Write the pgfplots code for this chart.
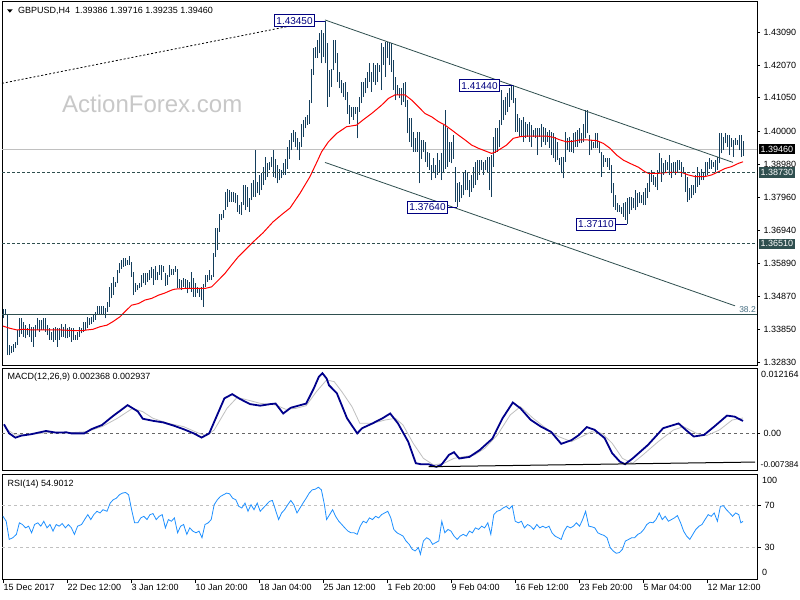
\documentclass[border=0pt]{standalone}
\usepackage{pgfplots}
\pgfplotsset{compat=1.18}
\usepackage{pgfplotstable}
\usepackage{fontspec}
\setmainfont{Liberation Sans}

\definecolor{barcol}{RGB}{20,62,92}
\definecolor{slate}{RGB}{47,79,79}
\definecolor{lgray}{RGB}{192,192,192}
\definecolor{navyb}{RGB}{0,0,128}
\definecolor{macdblue}{RGB}{0,0,139}
\definecolor{rsiblue}{RGB}{30,144,255}
\definecolor{wmgray}{RGB}{200,200,200}
\definecolor{lvl}{RGB}{70,110,130}
\newcommand{\sm}{\fontsize{9bp}{10bp}\selectfont}

\pgfplotstableread{
i lo hi
0 1.3419 1.3448
1 1.3429 1.3448
2 1.3305 1.3429
3 1.3305 1.3336
4 1.3310 1.3333
5 1.3315 1.3338
6 1.3326 1.3346
7 1.3336 1.3383
8 1.3362 1.3419
9 1.3370 1.3421
10 1.3362 1.3409
11 1.3357 1.3398
12 1.3367 1.3388
13 1.3362 1.3403
14 1.3346 1.3393
15 1.3331 1.3393
16 1.3362 1.3398
17 1.3383 1.3419
18 1.3378 1.3414
19 1.3383 1.3414
20 1.3383 1.3419
21 1.3378 1.3419
22 1.3367 1.3398
23 1.3352 1.3388
24 1.3352 1.3377
25 1.3346 1.3388
26 1.3352 1.3393
27 1.3331 1.3388
28 1.3352 1.3388
29 1.3362 1.3403
30 1.3362 1.3393
31 1.3357 1.3403
32 1.3357 1.3388
33 1.3362 1.3393
34 1.3346 1.3388
35 1.3352 1.3388
36 1.3352 1.3367
37 1.3352 1.3377
38 1.3362 1.3393
39 1.3372 1.3388
40 1.3378 1.3409
41 1.3383 1.3409
42 1.3388 1.3424
43 1.3398 1.3419
44 1.3403 1.3424
45 1.3409 1.3429
46 1.3414 1.3440
47 1.3429 1.3457
48 1.3429 1.3457
49 1.3434 1.3457
50 1.3434 1.3457
51 1.3419 1.3450
52 1.3440 1.3471
53 1.3455 1.3517
54 1.3481 1.3530
55 1.3492 1.3549
56 1.3517 1.3533
57 1.3528 1.3569
58 1.3559 1.3590
59 1.3574 1.3600
60 1.3580 1.3606
61 1.3582 1.3606
62 1.3585 1.3600
63 1.3585 1.3614
64 1.3548 1.3595
65 1.3491 1.3564
66 1.3502 1.3528
67 1.3507 1.3523
68 1.3512 1.3528
69 1.3517 1.3554
70 1.3528 1.3561
71 1.3523 1.3559
72 1.3533 1.3561
73 1.3538 1.3569
74 1.3543 1.3580
75 1.3523 1.3574
76 1.3538 1.3582
77 1.3538 1.3564
78 1.3554 1.3585
79 1.3538 1.3585
80 1.3564 1.3582
81 1.3521 1.3559
82 1.3523 1.3554
83 1.3548 1.3585
84 1.3554 1.3571
85 1.3554 1.3574
86 1.3564 1.3582
87 1.3512 1.3574
88 1.3512 1.3540
89 1.3507 1.3538
90 1.3517 1.3543
91 1.3512 1.3540
92 1.3497 1.3538
93 1.3512 1.3533
94 1.3502 1.3564
95 1.3486 1.3543
96 1.3486 1.3528
97 1.3497 1.3517
98 1.3486 1.3512
99 1.3476 1.3517
100 1.3455 1.3526
101 1.3517 1.3554
102 1.3533 1.3554
103 1.3538 1.3569
104 1.3538 1.3554
105 1.3548 1.3621
106 1.3611 1.3699
107 1.3631 1.3699
108 1.3689 1.3745
109 1.3725 1.3745
110 1.3730 1.3756
111 1.3756 1.3813
112 1.3766 1.3820
113 1.3782 1.3818
114 1.3782 1.3813
115 1.3782 1.3813
116 1.3777 1.3808
117 1.3751 1.3803
118 1.3745 1.3771
119 1.3740 1.3782
120 1.3771 1.3834
121 1.3756 1.3834
122 1.3766 1.3829
123 1.3751 1.3792
124 1.3787 1.3839
125 1.3797 1.3849
126 1.3797 1.3942
127 1.3808 1.3844
128 1.3802 1.3865
129 1.3818 1.3870
130 1.3834 1.3891
131 1.3849 1.3922
132 1.3860 1.3901
133 1.3880 1.3906
134 1.3891 1.3922
135 1.3860 1.3944
136 1.3854 1.3916
137 1.3839 1.3896
138 1.3849 1.3885
139 1.3854 1.3880
140 1.3865 1.3901
141 1.3865 1.3916
142 1.3885 1.3953
143 1.3916 1.3974
144 1.3942 1.3994
145 1.3968 1.4005
146 1.3953 1.3999
147 1.3942 1.3979
148 1.3911 1.3968
149 1.3953 1.4025
150 1.3984 1.4036
151 1.4010 1.4046
152 1.4020 1.4051
153 1.4025 1.4098
154 1.4088 1.4196
155 1.4176 1.4259
156 1.4228 1.4264
157 1.4228 1.4285
158 1.4243 1.4305
159 1.4212 1.4316
160 1.4233 1.4305
161 1.4212 1.4345
162 1.4077 1.4274
163 1.4108 1.4191
164 1.4139 1.4196
165 1.4191 1.4285
166 1.4212 1.4285
167 1.4155 1.4243
168 1.4134 1.4186
169 1.4119 1.4160
170 1.4108 1.4150
171 1.4098 1.4155
172 1.4056 1.4124
173 1.4025 1.4082
174 1.4046 1.4077
175 1.4036 1.4077
176 1.4056 1.4077
177 1.3979 1.4077
178 1.4062 1.4108
179 1.4088 1.4155
180 1.4108 1.4155
181 1.4119 1.4165
182 1.4134 1.4186
183 1.4155 1.4212
184 1.4124 1.4186
185 1.4155 1.4212
186 1.4145 1.4207
187 1.4155 1.4212
188 1.4186 1.4207
189 1.4129 1.4275
190 1.4207 1.4263
191 1.4170 1.4278
192 1.4229 1.4278
193 1.4207 1.4275
194 1.4185 1.4275
195 1.4129 1.4222
196 1.4098 1.4170
197 1.4114 1.4145
198 1.4103 1.4134
199 1.4082 1.4134
200 1.4093 1.4150
201 1.4077 1.4155
202 1.3994 1.4098
203 1.3968 1.4041
204 1.3953 1.4041
205 1.3937 1.3999
206 1.3937 1.3979
207 1.3937 1.3999
208 1.3839 1.3999
209 1.3916 1.3974
210 1.3937 1.3974
211 1.3906 1.3968
212 1.3891 1.3937
213 1.3880 1.3932
214 1.3849 1.3896
215 1.3870 1.3917
216 1.3854 1.3896
217 1.3865 1.3932
218 1.3875 1.3911
219 1.3849 1.3932
220 1.3875 1.4020
221 1.3885 1.4067
222 1.3891 1.4010
223 1.3906 1.3968
224 1.3901 1.3968
225 1.3916 1.3989
226 1.3782 1.3891
227 1.3764 1.3839
228 1.3782 1.3844
229 1.3792 1.3834
230 1.3802 1.3875
231 1.3818 1.3880
232 1.3818 1.3875
233 1.3797 1.3849
234 1.3813 1.3865
235 1.3823 1.3891
236 1.3834 1.3906
237 1.3849 1.3911
238 1.3865 1.3911
239 1.3880 1.3911
240 1.3865 1.3906
241 1.3880 1.3911
242 1.3875 1.3922
243 1.3818 1.3922
244 1.3797 1.3927
245 1.3891 1.3984
246 1.3932 1.4010
247 1.3937 1.4010
248 1.3953 1.4036
249 1.4020 1.4129
250 1.4036 1.4098
251 1.4051 1.4108
252 1.4062 1.4119
253 1.4077 1.4134
254 1.4098 1.4145
255 1.4088 1.4144
256 1.3999 1.4103
257 1.3999 1.4056
258 1.3984 1.4041
259 1.3984 1.4036
260 1.3968 1.4046
261 1.3979 1.4031
262 1.3984 1.4025
263 1.3968 1.4031
264 1.3953 1.4020
265 1.3984 1.4005
266 1.3979 1.4010
267 1.3927 1.4010
268 1.3984 1.4010
269 1.3953 1.4025
270 1.3968 1.4015
271 1.3958 1.4010
272 1.3968 1.3999
273 1.3948 1.4005
274 1.3927 1.3999
275 1.3917 1.3994
276 1.3906 1.3984
277 1.3911 1.3968
278 1.3896 1.3917
279 1.3870 1.3922
280 1.3854 1.3922
281 1.3906 1.3999
282 1.3942 1.3979
283 1.3937 1.3984
284 1.3937 1.3974
285 1.3932 1.3994
286 1.3953 1.3999
287 1.3953 1.4005
288 1.3963 1.4010
289 1.3963 1.3994
290 1.3968 1.4025
291 1.3979 1.4067
292 1.3994 1.4067
293 1.3927 1.3989
294 1.3942 1.3974
295 1.3948 1.3968
296 1.3948 1.3994
297 1.3948 1.3994
298 1.3932 1.3968
299 1.3859 1.3937
300 1.3891 1.3927
301 1.3906 1.3917
302 1.3891 1.3917
303 1.3880 1.3917
304 1.3808 1.3896
305 1.3766 1.3839
306 1.3756 1.3802
307 1.3751 1.3777
308 1.3751 1.3771
309 1.3745 1.3766
310 1.3735 1.3777
311 1.3725 1.3782
312 1.3711 1.3792
313 1.3745 1.3797
314 1.3756 1.3797
315 1.3761 1.3792
316 1.3756 1.3818
317 1.3766 1.3808
318 1.3777 1.3813
319 1.3777 1.3802
320 1.3771 1.3813
321 1.3771 1.3823
322 1.3792 1.3839
323 1.3813 1.3875
324 1.3844 1.3880
325 1.3834 1.3865
326 1.3828 1.3860
327 1.3818 1.3880
328 1.3870 1.3932
329 1.3844 1.3917
330 1.3865 1.3901
331 1.3875 1.3911
332 1.3880 1.3906
333 1.3865 1.3927
334 1.3854 1.3901
335 1.3875 1.3906
336 1.3865 1.3906
337 1.3875 1.3911
338 1.3880 1.3911
339 1.3860 1.3906
340 1.3870 1.3891
341 1.3813 1.3875
342 1.3782 1.3860
343 1.3787 1.3823
344 1.3792 1.3834
345 1.3802 1.3834
346 1.3808 1.3865
347 1.3828 1.3891
348 1.3834 1.3870
349 1.3849 1.3885
350 1.3849 1.3870
351 1.3860 1.3906
352 1.3865 1.3906
353 1.3885 1.3917
354 1.3885 1.3911
355 1.3891 1.3906
356 1.3875 1.3911
357 1.3880 1.3922
358 1.3901 1.3994
359 1.3932 1.3994
360 1.3942 1.3984
361 1.3963 1.3994
362 1.3953 1.3989
363 1.3927 1.3989
364 1.3953 1.3979
365 1.3922 1.3974
366 1.3958 1.3979
367 1.3958 1.3974
368 1.3942 1.3989
369 1.3922 1.3989
370 1.39235 1.39716
}\bars

\pgfplotstableread{
i p
0 1.3395
3.5 1.3388
7 1.3383
10 1.3385
15 1.3383
22 1.3383
29 1.3383
35 1.3381
40 1.3381
42 1.3383
45 1.3385
48.5 1.3393
52 1.3398
55 1.3409
58.5 1.3424
61 1.3440
64.3 1.3460
67.7 1.3465
71 1.3476
74.3 1.3481
77.7 1.3491
81 1.3498
84.3 1.3507
86 1.3510
91 1.3512
96 1.3512
101 1.3512
104.3 1.3517
107.7 1.3538
111 1.3559
114.3 1.3585
117.7 1.3611
121 1.3631
124.3 1.3652
126 1.3662
130 1.3685
135 1.3719
140 1.3745
143.5 1.3762
148.5 1.3808
153.5 1.3860
157 1.3906
159.3 1.3937
162.7 1.3968
166.8 1.3994
171.8 1.4015
176.8 1.4020
180 1.4036
184.3 1.4056
189.3 1.4082
192.7 1.4103
196 1.4114
201 1.4114
204.3 1.4098
207.7 1.4077
211 1.4056
214.3 1.4046
217.7 1.4031
221 1.4020
224.3 1.4005
227.7 1.3989
231 1.3974
234.3 1.3958
237.7 1.3948
241 1.3940
244.3 1.3932
246 1.3936
248.5 1.3945
251.8 1.3958
255.2 1.3979
258.5 1.3984
261.8 1.3986
265.2 1.3986
271.8 1.3986
275.2 1.3982
278.5 1.3974
281.8 1.3968
285.2 1.3970
288.5 1.3974
291.8 1.3974
296.8 1.3972
300.2 1.3963
303.5 1.3948
306.8 1.3927
310.2 1.3911
313.5 1.3901
317.7 1.3889
321 1.3875
322.7 1.3870
327.7 1.3870
332.7 1.3873
339.3 1.3873
342.7 1.3865
346 1.3860
351 1.3860
354.3 1.3865
357.7 1.3875
361 1.3885
364.3 1.3891
367.7 1.3901
370 1.3906
}\ma

\pgfplotstableread{
i v
0.5 0.00173
3.1 0
6.2 -0.00082
9.2 -0.00043
13.8 -0.00018
21.5 0.00046
26.6 0.00014
31.7 0.0002
34.2 0
40.6 0
44.4 0.00084
49.5 0.0016
54.6 0.0032
62.3 0.0054
67.4 0.0042
69.9 0.0028
75 0.0024
80.1 0.0021
85.2 0.0015
90.3 0.0008
95.4 0
99.3 -0.0008
103.1 0
105.6 0.0022
110.7 0.0067
114.6 0.0075
118.4 0.0066
123.5 0.0056
128.6 0.0053
133.7 0.0056
136.3 0.0057
140.1 0.0038
143.9 0.0049
147.7 0.0053
151.6 0.0057
155.4 0.0086
157.9 0.0108
159.7 0.0115
161.8 0.0105
163 0.0092
166.9 0.0077
172 0.0029
177.1 0
179.6 0.001
184.7 0.0019
189.8 0.0029
193.6 0.0038
197.5 0.0019
202.6 -0.0016
206.4 -0.0057
209 -0.0059
212.8 -0.0059
216.6 -0.0064
219.2 -0.006
223 -0.0041
225.5 -0.0036
228.1 -0.0048
233.2 -0.0045
238.3 -0.0032
244.7 -0.001
249.8 0.0029
254.9 0.0059
258.7 0.0048
263.8 0.0026
268.9 0.0013
274 0.0003
279.1 -0.002
284.2 -0.0013
288 -0.0003
291.9 0.0012
295.7 0.0007
300.8 -0.0009
304.6 -0.0038
308.4 -0.0054
311 -0.0059
314.8 -0.0048
322.5 -0.0022
330.1 0.001
337.8 0.0019
341.6 0.0006
345.4 -0.0006
350.5 -0.0003
355.6 0.0013
362 0.0034
365.8 0.0032
370 0.00237
}\macd

\pgfplotstableread{
i v
1.1 0.00097
6.2 -0.00031
13.8 -0.00018
24 0.0002
34.2 0.00014
41.9 0.00033
49.5 0.00129
57.2 0.00288
64.8 0.00479
69.9 0.00415
75 0.00288
82.7 0.00192
90.3 0.00129
98 0.00001
101.8 -0.00043
105.6 0.00065
112 0.00479
117.1 0.00689
122.2 0.00639
128.6 0.00575
136.3 0.00543
141.4 0.0046
146.5 0.00479
151.6 0.0053
156.7 0.00798
161.8 0.01021
165.6 0.00989
169.4 0.00798
174.5 0.00511
178.4 0.00192
184.7 0.00192
191.1 0.00256
196.2 0.00288
200 0.00161
205.1 -0.0019
210.2 -0.00477
215.3 -0.00604
220.4 -0.00572
225.5 -0.00477
230.6 -0.00445
235.7 -0.00413
240.9 -0.00285
247.2 -0.00031
253.6 0.00352
258.7 0.00511
265.1 0.00288
271.5 0.00097
277.8 -0.00062
284.2 -0.00158
289.3 -0.00062
294.4 0.00033
299.5 0.00001
304.6 -0.0019
309.7 -0.00477
314.8 -0.00572
319.9 -0.00413
327.6 -0.00158
335.2 0.00065
340.3 0.00129
346.7 0.00001
351.8 -0.00043
358.2 0.00065
364.6 0.00256
370 0.00294
}\sig

\pgfplotstableread{
i v
0 59.7
1.6 55
3.1 37.7
4.9 39.3
6.7 42.5
8.2 53.5
9.7 51.9
11.3 48.7
12.8 50.3
14.3 44
15.8 51.9
17.4 53.5
18.9 50.3
20.4 55
22 48.7
23.5 51.9
25 45.6
26.6 51.9
28.1 50.3
29.6 52.8
31.2 48.7
32.7 51.9
34.2 48.7
35.7 42.5
37.3 50.3
39.3 51.9
40.8 56.6
42.4 61.3
43.9 56.6
45.4 61.3
47 64.5
48.5 62.9
50 66
52 64.5
53.6 72.3
55.1 75.5
56.7 77
58.2 80.2
59.7 81.8
61.3 82.4
62.8 80.2
64.3 66
65.8 53.5
67.4 53.5
68.9 58.2
70.4 59.7
72 56.6
73.5 61.3
75 62.3
76.6 56.6
78.1 59.7
79.6 61.3
81.2 48.7
82.7 56.6
84.2 55
85.7 58.2
87.3 44
88.8 50.3
90.3 51.9
91.9 42.5
93.4 48.7
94.9 45.6
96.5 44
98 45.6
99.5 39.3
101 51.9
102.6 53.5
104.1 56.6
105.6 70.8
107.2 75.5
108.7 78.6
110.2 80.2
111.8 81.8
113.3 81.1
114.8 77
116.4 75.5
117.9 69.2
119.4 67.6
121 72.3
122.5 64.5
124 70.8
125.5 66
127.1 72.3
128.6 64.5
130.1 67.6
131.7 70.8
133.2 73.9
134.7 74.8
136.2 66
137.8 56.6
139.3 62.9
140.8 66
142.4 70.8
143.9 74.8
145.4 70.8
147 62.9
148.5 67.6
150 72.3
151.6 77
153.1 81.8
154.6 84.9
156.1 85.5
157.7 87.4
159.2 84.9
160.7 70.8
161.8 56.6
163.3 61.3
164.8 66
166.3 59.7
167.9 55
169.4 51.9
170.9 48.7
172.5 45.6
174 44
175.5 44
177.1 42.5
178.6 50.3
180.1 55
181.7 53.5
183.2 58.2
184.7 56.6
186.3 59.7
187.8 58.2
189.3 61.3
190.8 62.9
192.4 64.5
193.9 58.2
195.4 47.2
197 44
198.5 42.5
200 40.9
201.5 36.2
203.1 33
204.6 28.3
206.1 26.7
207.7 29.9
208.7 23.6
210.2 36.2
211.8 39.3
213.3 37.7
214.8 33
216.3 34.6
217.9 36.2
219.4 55
220.9 44
222.5 47.2
224 45.6
225.5 40.9
227.1 37.7
228.6 40.9
230.1 42.5
231.7 40.9
233.2 45.6
234.7 44
236.2 48.7
237.8 47.2
239.3 50.3
240.8 48.7
242.4 53.5
243.9 42.5
245.4 61.3
247 64.5
248.5 65.4
250 67.6
251.6 69.2
253.1 66.7
254.6 69.8
256.1 55
257.7 53.5
259.2 55
260.7 48.7
262.3 51.9
263.8 50.3
265.3 47.2
266.9 51.9
268.4 48.7
269.9 50.3
271.4 48.7
273 50.3
274.5 44
276 40.9
277.6 39.3
279.1 37.7
280.6 45.6
282.1 50.3
283.7 48.7
285.2 50.3
286.7 53.5
288.3 50.3
289.8 56.6
291.3 64.5
292.9 50.3
294.4 49.7
295.9 48.7
297.4 44
299 42.5
300.5 41.5
302 39.3
303.6 29.9
305.1 26.7
306.6 24.5
308.2 25.2
309.7 28.3
311.2 36.2
312.8 37.7
314.3 39.3
315.8 39.3
317.4 42.5
318.9 44
320.4 47.2
321.9 51.9
323.5 54.1
325 53.5
326.5 56.6
328.1 62.9
329.6 56.6
331.1 59.7
332.7 55
334.2 56.6
335.7 58.2
337.2 60.4
338.8 53.5
340.3 45.6
341.8 40.9
343.4 37.7
344.9 42.5
346.4 47.2
348 50.3
349.5 51.9
351 56.6
352.6 61.3
354.1 59.7
355.6 62.9
357.2 55
358.7 69.2
360.2 69.8
361.7 66
363.3 62.9
364.8 59.7
366.3 62.9
367.9 61.3
368.9 53.5
370 54.9
}\rsi

\pgfplotsset{
  mt/.style={scale only axis, width=755bp, xmin=-0.5, xmax=377, clip=false,
    anchor=south west, axis line style={black, line width=0.8bp},
    xtick=\empty, ytick pos=right, yticklabel pos=right,
    tick align=outside, major tick length=3bp,
    tick style={black, line width=0.6bp},
    tick label style={font=\sm, text=black},
    scaled y ticks=false}
}
\tikzset{
  lbl/.style={draw=navyb, fill=white, text=navyb, line width=0.8bp,
    inner xsep=2bp, inner ysep=2.5bp, font=\fontsize{10bp}{10bp}\selectfont},
  rbox/.style={anchor=west, inner xsep=2bp, inner ysep=2bp, font=\sm, xshift=1.5bp}
}

\begin{document}
\begin{tikzpicture}
\path[use as bounding box] (0,0) rectangle (800bp,600bp);
\fill[white] (0,0) rectangle (800bp,600bp);

% watermark and titles
\node[anchor=base west, inner sep=0, text=wmgray, font=\fontsize{24bp}{24bp}\selectfont] at (62bp,487bp) {ActionForex.com};
\fill[black] (7bp,590.7bp) -- (12.7bp,590.7bp) -- (9.85bp,587.3bp) -- cycle;
\node[anchor=base west, inner sep=0, font=\sm] at (18bp,586bp) {GBPUSD,H4\hspace{5bp}1.39386 1.39716 1.39235 1.39460};

% ---------------- price panel
\begin{axis}[mt, at={(2bp,235bp)}, height=364bp, ymin=1.3274, ymax=1.4406,
  ytick={1.4309,1.4207,1.4105,1.4000,1.3898,1.3796,1.3694,1.3589,1.3487,1.3385,1.3283},
  yticklabels={1.43090,1.42070,1.41050,1.40000,1.38980,1.37960,1.36940,1.35890,1.34870,1.33850,1.32830}]
\addplot[lgray, line width=0.8bp, forget plot] coordinates {(-0.5,1.3946) (377,1.3946)};
\addplot[barcol, line width=1bp, mark=none, quiver={u=0, v=\thisrow{hi}-\thisrow{lo}}] table[x=i, y=lo] {\bars};
\addplot[red, line width=1bp, mark=none] table[x=i, y=p] {\ma};
\addplot[slate, line width=0.8bp, dash pattern=on 3bp off 2bp] coordinates {(-0.5,1.3873) (377,1.3873)};
\addplot[slate, line width=0.8bp, dash pattern=on 3bp off 2bp] coordinates {(-0.5,1.3651) (377,1.3651)};
\addplot[slate, line width=0.9bp] coordinates {(-0.5,1.3430) (377,1.3430)};
\addplot[black, line width=0.8bp, dash pattern=on 2bp off 2bp] coordinates {(-0.5,1.4150) (143.5,1.4328)};
\addplot[slate, line width=0.8bp] coordinates {(161,1.4347) (365,1.3904)};
\addplot[slate, line width=0.8bp] coordinates {(161,1.3904) (366,1.3458)};
\node[anchor=base east, inner sep=0, text=lvl, font=\fontsize{8.5bp}{9bp}\selectfont, yshift=2.5bp] at (axis cs:376.5,1.3430) {38.2};
\draw[navyb, line width=0.8bp] (axis cs:156,1.4343) -- (axis cs:161,1.4343);
\node[lbl, anchor=east] at (axis cs:156,1.4345) {1.43450};
\draw[navyb, line width=0.8bp] (axis cs:248.5,1.4144) -- (axis cs:255,1.4144);
\node[lbl, anchor=east] at (axis cs:248.5,1.4143) {1.41440};
\draw[navyb, line width=0.8bp] (axis cs:222.5,1.3764) -- (axis cs:227,1.3764);
\node[lbl, anchor=east] at (axis cs:222.5,1.3764) {1.37640};
\draw[navyb, line width=0.8bp] (axis cs:306.5,1.3711) -- (axis cs:312,1.3711);
\node[lbl, anchor=east] at (axis cs:306.5,1.3711) {1.37110};
\coordinate (b1) at (axis cs:377,1.3946);
\coordinate (b2) at (axis cs:377,1.3873);
\coordinate (b3) at (axis cs:377,1.3651);
\end{axis}
\node[rbox, fill=black, text=white] at (b1) {1.39460};
\node[rbox, fill=slate, text=white] at (b2) {1.38730};
\node[rbox, fill=slate, text=white] at (b3) {1.36510};

% ---------------- MACD panel
\begin{axis}[mt, at={(2bp,130bp)}, height=102bp, ymin=-0.0070, ymax=0.0125,
  ytick={0}, yticklabels={0.00}]
\addplot[black!60, line width=0.7bp, dash pattern=on 3bp off 3bp] coordinates {(-0.5,0) (377,0)};
\addplot[lgray, line width=0.8bp, mark=none] table[x=i, y=v] {\sig};
\addplot[macdblue, line width=1.8bp, mark=none] table[x=i, y=v] {\macd};
\addplot[black, line width=1bp] coordinates {(212.8,-0.00637) (376,-0.00548)};
\end{axis}
\node[anchor=base west, inner sep=0, font=\sm] at (7.5bp,220bp) {MACD(12,26,9) 0.002368 0.002937};
\node[anchor=base west, inner sep=0, font=\sm] at (761bp,222bp) {0.012164};
\node[anchor=base west, inner sep=0, font=\fontsize{8.4bp}{9bp}\selectfont] at (760.5bp,132.5bp) {-0.007384};

% ---------------- RSI panel
\begin{axis}[mt, at={(2bp,21bp)}, height=105bp, ymin=0, ymax=100,
  ytick={70,30}, yticklabels={70,30},
  xtick={0,32,64,96,128,160,192,224,256,288,320,352},
  xticklabels={15 Dec 2017,22 Dec 12:00,3 Jan 12:00,10 Jan 20:00,18 Jan 04:00,25 Jan 12:00,1 Feb 20:00,9 Feb 04:00,16 Feb 12:00,23 Feb 20:00,5 Mar 04:00,12 Mar 12:00},
  xtick pos=bottom, major tick length=4bp,
  xticklabel style={anchor=north west, inner sep=0pt, xshift=0.5bp, yshift=-1bp}]
\addplot[lgray, line width=0.8bp, dash pattern=on 3bp off 3bp] coordinates {(-0.5,70) (377,70)};
\addplot[lgray, line width=0.8bp, dash pattern=on 3bp off 3bp] coordinates {(-0.5,30) (377,30)};
\addplot[rsiblue, line width=0.8bp, mark=none] table[x=i, y=v] {\rsi};
\end{axis}
\node[anchor=base west, inner sep=0, font=\sm] at (7.5bp,113bp) {RSI(14) 54.9012};
\node[anchor=base west, inner sep=0, font=\sm] at (762bp,116bp) {100};
\node[anchor=base west, inner sep=0, font=\sm] at (762bp,25bp) {0};
\end{tikzpicture}
\end{document}
